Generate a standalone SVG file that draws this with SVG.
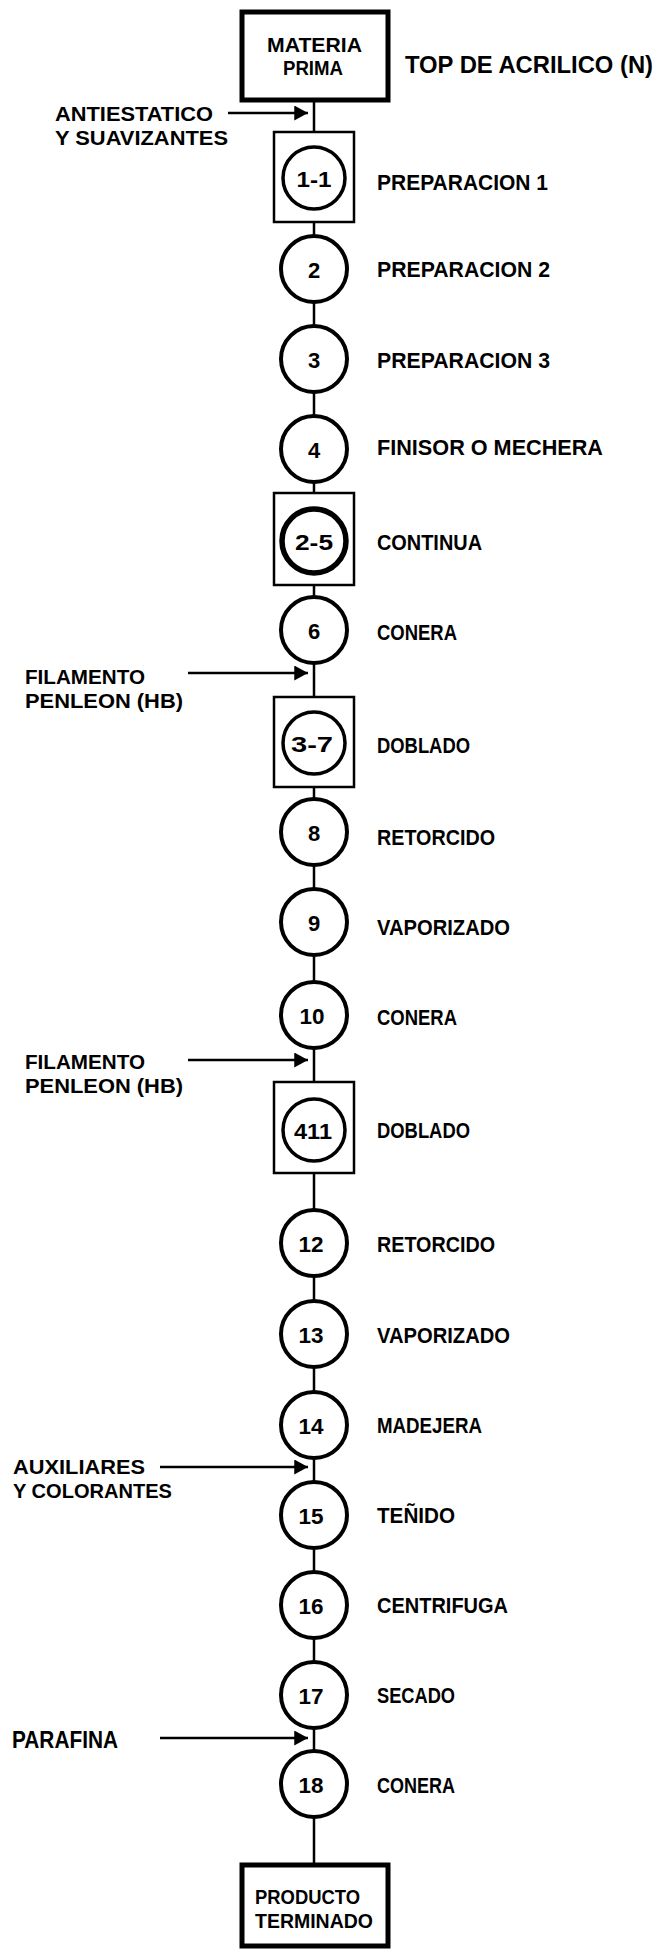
<svg xmlns="http://www.w3.org/2000/svg" width="660" height="1951" viewBox="0 0 660 1951">
<style>
text{font-family:"Liberation Sans","DejaVu Sans",sans-serif;font-weight:bold;fill:#000}
.r{font-size:22px}
.l{font-size:21px}
.t{font-size:24px}
.n{font-size:22px;text-anchor:middle}
.c{fill:#fff;stroke:#000;stroke-width:4}
.ci{fill:#fff;stroke:#000;stroke-width:3.5}
.bx{fill:#fff;stroke:#000;stroke-width:2.5}
.tb{fill:#fff;stroke:#000;stroke-width:5}
.ln{stroke:#000;stroke-width:2.5;fill:none}
</style>
<defs>
<marker id="ah" markerWidth="6" markerHeight="6" refX="5.5" refY="3" orient="auto" markerUnits="strokeWidth">
<path d="M0,0 L5.5,3 L0,6 Z" fill="#000"/>
</marker>
</defs>
<rect width="660" height="1951" fill="#fff"/>
<g id="connectors">
<path class="ln" d="M314,100V132 M314,222V236 M314,302V326 M314,392V416 M314,482V493 M314,585V597 M314,663V697 M314,787V799 M314,865V889 M314,955V982 M314,1048V1082 M314,1173V1210 M314,1276V1301 M314,1367V1392 M314,1458V1482 M314,1548V1572 M314,1638V1662 M314,1728V1751 M314,1817V1865"/>
<line class="ln" x1="228" y1="113" x2="308" y2="113" marker-end="url(#ah)"/>
<line class="ln" x1="188" y1="673" x2="308" y2="673" marker-end="url(#ah)"/>
<line class="ln" x1="188" y1="1060" x2="308" y2="1060" marker-end="url(#ah)"/>
<line class="ln" x1="160" y1="1467" x2="308" y2="1467" marker-end="url(#ah)"/>
<line class="ln" x1="160" y1="1738" x2="308" y2="1738" marker-end="url(#ah)"/>
</g>
<g id="materia-prima">
<rect class="tb" x="242" y="12" width="146" height="88"/>
<text class="l" x="267" y="52" textLength="95" lengthAdjust="spacingAndGlyphs">MATERIA</text>
<text class="l" x="283" y="75" textLength="60" lengthAdjust="spacingAndGlyphs">PRIMA</text>
<text class="t" x="405" y="73" textLength="248" lengthAdjust="spacingAndGlyphs">TOP DE ACRILICO (N)</text>
</g>
<g id="in-antiestatico">
<text class="l" x="55" y="121" textLength="158" lengthAdjust="spacingAndGlyphs">ANTIESTATICO</text>
<text class="l" x="55" y="145" textLength="173" lengthAdjust="spacingAndGlyphs">Y SUAVIZANTES</text>
</g>
<g id="n1-1">
<rect class="bx" x="274" y="132" width="80" height="90"/>
<circle class="ci" cx="314" cy="178" r="31"/>
<text class="n" x="314" y="187" textLength="35" lengthAdjust="spacingAndGlyphs">1-1</text>
<text class="r" x="377" y="190" textLength="171" lengthAdjust="spacingAndGlyphs">PREPARACION 1</text>
</g>
<g id="n2">
<circle class="c" cx="314" cy="269" r="33"/>
<text class="n" x="314" y="278">2</text>
<text class="r" x="377" y="277" textLength="173" lengthAdjust="spacingAndGlyphs">PREPARACION 2</text>
</g>
<g id="n3">
<circle class="c" cx="314" cy="359" r="33"/>
<text class="n" x="314" y="368">3</text>
<text class="r" x="377" y="368" textLength="173" lengthAdjust="spacingAndGlyphs">PREPARACION 3</text>
</g>
<g id="n4">
<circle class="c" cx="314" cy="449" r="33"/>
<text class="n" x="314" y="458">4</text>
<text class="r" x="377" y="455" textLength="226" lengthAdjust="spacingAndGlyphs">FINISOR O MECHERA</text>
</g>
<g id="n2-5">
<rect class="bx" x="274" y="493" width="80" height="92"/>
<circle class="c" cx="314" cy="541" r="32" style="stroke-width:5.5"/>
<text class="n" x="314" y="550" textLength="38" lengthAdjust="spacingAndGlyphs">2-5</text>
<text class="r" x="377" y="550" textLength="105" lengthAdjust="spacingAndGlyphs">CONTINUA</text>
</g>
<g id="n6">
<circle class="c" cx="314" cy="630" r="33"/>
<text class="n" x="314" y="639">6</text>
<text class="r" x="377" y="640" textLength="80" lengthAdjust="spacingAndGlyphs">CONERA</text>
</g>
<g id="in-filamento-1">
<text class="l" x="25" y="684" textLength="120" lengthAdjust="spacingAndGlyphs">FILAMENTO</text>
<text class="l" x="25" y="708" textLength="158" lengthAdjust="spacingAndGlyphs">PENLEON (HB)</text>
</g>
<g id="n3-7">
<rect class="bx" x="274" y="697" width="80" height="90"/>
<circle class="ci" cx="314" cy="743" r="31"/>
<text class="n" x="312" y="752" textLength="42" lengthAdjust="spacingAndGlyphs">3-7</text>
<text class="r" x="377" y="753" textLength="93" lengthAdjust="spacingAndGlyphs">DOBLADO</text>
</g>
<g id="n8">
<circle class="c" cx="314" cy="832" r="33"/>
<text class="n" x="314" y="841">8</text>
<text class="r" x="377" y="845" textLength="118" lengthAdjust="spacingAndGlyphs">RETORCIDO</text>
</g>
<g id="n9">
<circle class="c" cx="314" cy="922" r="33"/>
<text class="n" x="314" y="931">9</text>
<text class="r" x="377" y="935" textLength="133" lengthAdjust="spacingAndGlyphs">VAPORIZADO</text>
</g>
<g id="n10">
<circle class="c" cx="314" cy="1015" r="33"/>
<text class="n" x="312" y="1024" textLength="25" lengthAdjust="spacingAndGlyphs">10</text>
<text class="r" x="377" y="1025" textLength="80" lengthAdjust="spacingAndGlyphs">CONERA</text>
</g>
<g id="in-filamento-2">
<text class="l" x="25" y="1069" textLength="120" lengthAdjust="spacingAndGlyphs">FILAMENTO</text>
<text class="l" x="25" y="1093" textLength="158" lengthAdjust="spacingAndGlyphs">PENLEON (HB)</text>
</g>
<g id="n411">
<rect class="bx" x="274" y="1082" width="80" height="91"/>
<circle class="ci" cx="314" cy="1130" r="31"/>
<text class="n" x="313" y="1139" textLength="38" lengthAdjust="spacingAndGlyphs">411</text>
<text class="r" x="377" y="1138" textLength="93" lengthAdjust="spacingAndGlyphs">DOBLADO</text>
</g>
<g id="n12">
<circle class="c" cx="314" cy="1243" r="33"/>
<text class="n" x="311" y="1252" textLength="25" lengthAdjust="spacingAndGlyphs">12</text>
<text class="r" x="377" y="1252" textLength="118" lengthAdjust="spacingAndGlyphs">RETORCIDO</text>
</g>
<g id="n13">
<circle class="c" cx="314" cy="1334" r="33"/>
<text class="n" x="311" y="1343" textLength="25" lengthAdjust="spacingAndGlyphs">13</text>
<text class="r" x="377" y="1343" textLength="133" lengthAdjust="spacingAndGlyphs">VAPORIZADO</text>
</g>
<g id="n14">
<circle class="c" cx="314" cy="1425" r="33"/>
<text class="n" x="311" y="1434" textLength="25" lengthAdjust="spacingAndGlyphs">14</text>
<text class="r" x="377" y="1433" textLength="105" lengthAdjust="spacingAndGlyphs">MADEJERA</text>
</g>
<g id="in-auxiliares">
<text class="l" x="13" y="1474" textLength="132" lengthAdjust="spacingAndGlyphs">AUXILIARES</text>
<text class="l" x="13" y="1498" textLength="159" lengthAdjust="spacingAndGlyphs">Y COLORANTES</text>
</g>
<g id="n15">
<circle class="c" cx="314" cy="1515" r="33"/>
<text class="n" x="311" y="1524" textLength="25" lengthAdjust="spacingAndGlyphs">15</text>
<text class="r" x="377" y="1523" textLength="78" lengthAdjust="spacingAndGlyphs">TEÑIDO</text>
</g>
<g id="n16">
<circle class="c" cx="314" cy="1605" r="33"/>
<text class="n" x="311" y="1614" textLength="25" lengthAdjust="spacingAndGlyphs">16</text>
<text class="r" x="377" y="1613" textLength="131" lengthAdjust="spacingAndGlyphs">CENTRIFUGA</text>
</g>
<g id="n17">
<circle class="c" cx="314" cy="1695" r="33"/>
<text class="n" x="311" y="1704" textLength="25" lengthAdjust="spacingAndGlyphs">17</text>
<text class="r" x="377" y="1703" textLength="78" lengthAdjust="spacingAndGlyphs">SECADO</text>
</g>
<g id="in-parafina">
<text class="t" x="12" y="1748" textLength="106" lengthAdjust="spacingAndGlyphs">PARAFINA</text>
</g>
<g id="n18">
<circle class="c" cx="314" cy="1784" r="33"/>
<text class="n" x="311" y="1793" textLength="25" lengthAdjust="spacingAndGlyphs">18</text>
<text class="r" x="377" y="1793" textLength="78" lengthAdjust="spacingAndGlyphs">CONERA</text>
</g>
<g id="producto-terminado">
<rect class="tb" x="242" y="1865" width="146" height="81"/>
<text class="l" x="255" y="1904" textLength="105" lengthAdjust="spacingAndGlyphs">PRODUCTO</text>
<text class="l" x="255" y="1928" textLength="118" lengthAdjust="spacingAndGlyphs">TERMINADO</text>
</g>
</svg>
